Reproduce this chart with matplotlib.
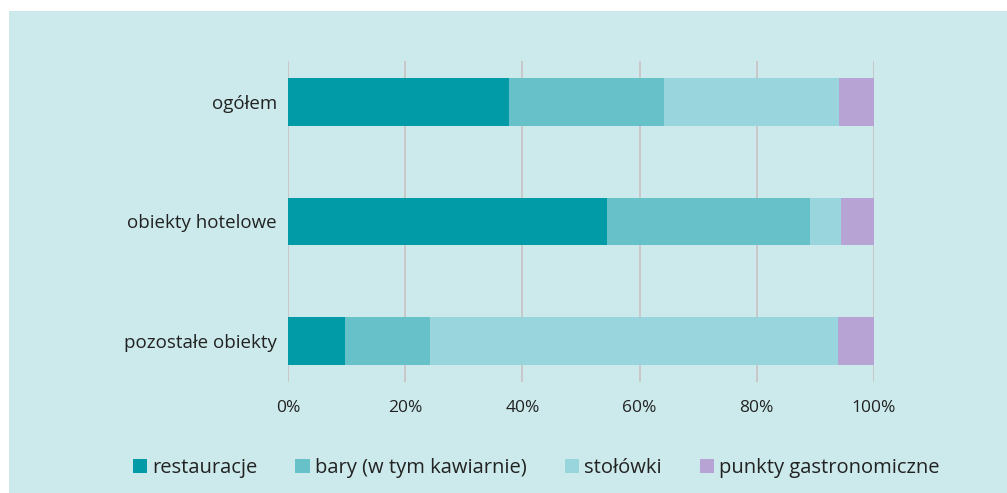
import matplotlib
matplotlib.use('Agg')
import numpy as np
import matplotlib.pyplot as plt
from matplotlib.patches import Rectangle

categories = ['ogółem', 'obiekty hotelowe', 'pozostałe obiekty']
series = ['restauracje', 'bary (w tym kawiarnie)', 'stołówki', 'punkty gastronomiczne']
restauracje = [37.7, 54.4, 9.8]
bary = [26.4, 34.6, 14.4]
stolowki = [30.0, 5.3, 69.6]
punkty = [5.9, 5.7, 6.2]
ticks = [0, 20, 40, 60, 80, 100]
tick_labels = ['0%', '20%', '40%', '60%', '80%', '100%']

colors = ['#009ba6', '#66c2c8', '#99d5dc', '#b8a4d4']
bg = '#cceaeb'

plt.rcParams['font.family'] = ['Open Sans', 'DejaVu Sans']

fig = plt.figure(figsize=(10.07, 4.93), dpi=100)
fig.patch.set_facecolor('white')
fig.patches.append(Rectangle((9 / 1007, 0), 1, 1 - 11 / 493, transform=fig.transFigure,
                             facecolor=bg, edgecolor='none', zorder=-10))

ax = fig.add_axes([288 / 1007, 1 - 382 / 493, (874 - 288) / 1007, (382 - 61) / 493])
ax.set_facecolor(bg)

y = np.arange(len(categories))[::-1]
left = np.zeros(len(categories))
for name, vals, c in zip(series, [restauracje, bary, stolowki, punkty], colors):
    ax.barh(y, vals, left=left, height=0.4, color=c, label=name, zorder=3)
    left += np.array(vals)

ax.set_xlim(0, 100)
ax.set_ylim(-0.343, 2.343)
ax.set_xticks(ticks)
ax.set_xticklabels(tick_labels)
ax.set_yticks(y)
ax.set_yticklabels(categories)
ax.grid(axis='x', color='#c8c8c8', linewidth=1.4, zorder=0)
for s in ax.spines.values():
    s.set_visible(False)
ax.tick_params(axis='x', length=0, pad=13, labelsize=12.5, colors='#222222')
ax.tick_params(axis='y', length=0, pad=8, labelsize=13.5, colors='#222222')

fig.legend(loc='center', bbox_to_anchor=(536 / 1007, 1 - 468 / 493), ncol=4,
           frameon=False, fontsize=14.5, handlelength=0.7, handleheight=0.7,
           handletextpad=0.25, columnspacing=1.9, labelcolor='#222222')

plt.savefig('out.png', dpi=100, facecolor=fig.get_facecolor())
